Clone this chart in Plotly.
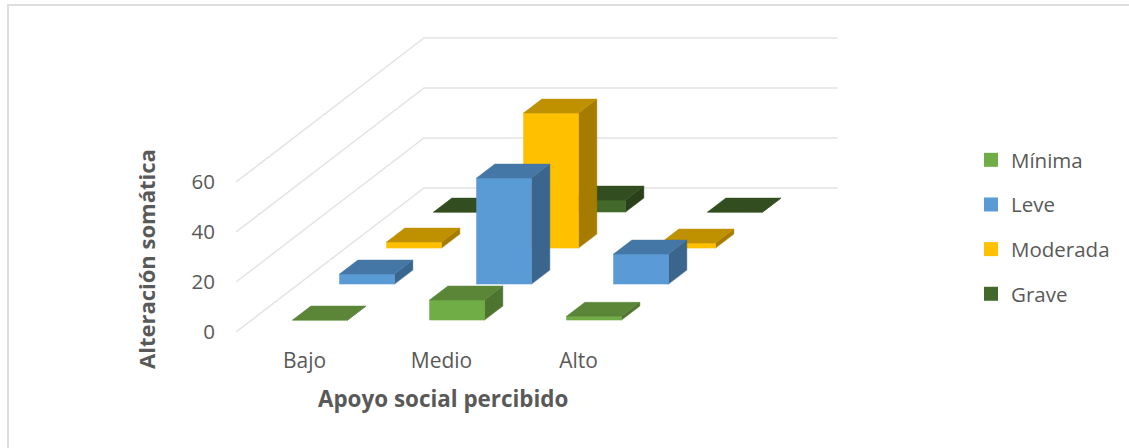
import plotly.graph_objects as go

# ---- data ----
categories = ["Bajo", "Medio", "Alto"]
series_names = ["Mínima", "Leve", "Moderada", "Grave"]
minima = [0, 8, 1.5]
leve = [4, 42.4, 12]
moderada = [2.4, 54, 2]
grave = [0, 4.8, 0]
series_values = [minima, leve, moderada, grave]
y_ticks = [0, 20, 40, 60]

# ---- styling ----
front_colors = ["#70AD47", "#5B9BD5", "#FFC000", "#43682B"]
top_colors = ["#5B8537", "#4577A6", "#BF9000", "#324E20"]
side_colors = ["#4D7530", "#3A668E", "#A67C00", "#29401A"]
FONT = "Open Sans"
TEXT = "#595959"
GRID = "#E4E4E4"

W, H = 1129, 448
L, R, T, B = 236, 840, 20, 346
PX_X = 137.0   # px per category
PX_Z = 2.5     # px per value unit
# oblique projection: one series row shifts the drawing by this much
ROW_DX = 47 / PX_X
ROW_DZ = 36 / PX_Z
BAR_W = 55 / PX_X
D0, D1 = 0.33, 0.72   # bar front/back inside its row


def proj(x, d, z):
    return x + d * ROW_DX, z + d * ROW_DZ


def paper_x(px):
    return (px - L) / (R - L)


def paper_y(px):
    return (B - px) / (B - T)


fig = go.Figure()

# walls
n_rows = len(series_names)
x_left = -0.5
x_right = x_left + len(categories) + 0.02
for t in y_ticks:
    pts = [proj(x_left, 0, t), proj(x_left, n_rows, t), proj(x_right, n_rows, t)]
    fig.add_trace(go.Scatter(x=[p[0] for p in pts], y=[p[1] for p in pts], mode="lines",
                             line=dict(color=GRID, width=1.5), hoverinfo="skip", showlegend=False))


def add_face(polys, color):
    xs, ys = [], []
    for poly in polys:
        xs += [p[0] for p in poly] + [poly[0][0], None]
        ys += [p[1] for p in poly] + [poly[0][1], None]
    fig.add_trace(go.Scatter(x=xs, y=ys, mode="lines", fill="toself", fillcolor=color,
                             line=dict(color=color, width=0.5), hoverinfo="skip", showlegend=False))


# bars, back row first
for r in range(n_rows - 1, -1, -1):
    vals = series_values[r]
    fronts, sides, tops = [], [], []
    for i, v in enumerate(vals):
        a, b = i - BAR_W / 2, i + BAR_W / 2
        fronts.append([proj(a, r + D0, 0), proj(b, r + D0, 0), proj(b, r + D0, v), proj(a, r + D0, v)])
        sides.append([proj(b, r + D0, 0), proj(b, r + D1, 0), proj(b, r + D1, v), proj(b, r + D0, v)])
        tops.append([proj(a, r + D0, v), proj(b, r + D0, v), proj(b, r + D1, v), proj(a, r + D1, v)])
    add_face(sides, side_colors[r])
    add_face(fronts, front_colors[r])
    add_face(tops, top_colors[r])

# legend entries
for name, c in zip(series_names, front_colors):
    fig.add_trace(go.Scatter(x=[None], y=[None], mode="markers", name=name, legendgroup=name,
                             marker=dict(symbol="square", size=14, color=c)))

x_range = [x_left, x_left + (R - L) / PX_X]
z_bottom = -(B - 332) / PX_Z
z_top = (332 - T) / PX_Z

fig.update_layout(
    width=W, height=H, autosize=False,
    margin=dict(l=L, r=W - R, t=T, b=H - B),
    paper_bgcolor="white", plot_bgcolor="white",
    font=dict(family=FONT, color=TEXT, size=21),
    xaxis=dict(range=x_range, tickmode="array", tickvals=list(range(len(categories))),
               ticktext=categories, showgrid=False, zeroline=False, showline=False,
               ticks="", tickfont=dict(size=21, color=TEXT), fixedrange=True),
    yaxis=dict(range=[z_bottom, z_top], tickmode="array", tickvals=y_ticks,
               showgrid=False, zeroline=False, showline=False, ticks="",
               ticklabelstandoff=20, tickfont=dict(size=20.5, color=TEXT), fixedrange=True),
    legend=dict(x=paper_x(971), y=paper_y(140), xanchor="left", yanchor="top",
                font=dict(size=20.5, color=TEXT), tracegroupgap=15, itemclick=False, itemdoubleclick=False),
    annotations=[
        dict(text="<b>Apoyo social percibido</b>", xref="paper", yref="paper",
             x=paper_x(443), y=paper_y(398), xanchor="center", yanchor="middle", showarrow=False,
             font=dict(size=22.4, color=TEXT)),
        dict(text="<b>Alteración somática</b>", xref="paper", yref="paper", textangle=-90,
             x=paper_x(146), y=paper_y(259), xanchor="center", yanchor="middle", showarrow=False,
             font=dict(size=22, color=TEXT)),
    ],
    shapes=[
        dict(type="line", xref="paper", yref="paper", layer="below",
             x0=paper_x(8), x1=paper_x(8), y0=paper_y(H), y1=paper_y(4),
             line=dict(color="#DEDEDE", width=2)),
        dict(type="line", xref="paper", yref="paper", layer="below",
             x0=paper_x(7), x1=paper_x(W), y0=paper_y(5), y1=paper_y(5),
             line=dict(color="#DEDEDE", width=2)),
    ],
    showlegend=True,
)

fig.write_html("out.html", config={"displayModeBar": False},
               post_script="document.body.style.margin='0';")
